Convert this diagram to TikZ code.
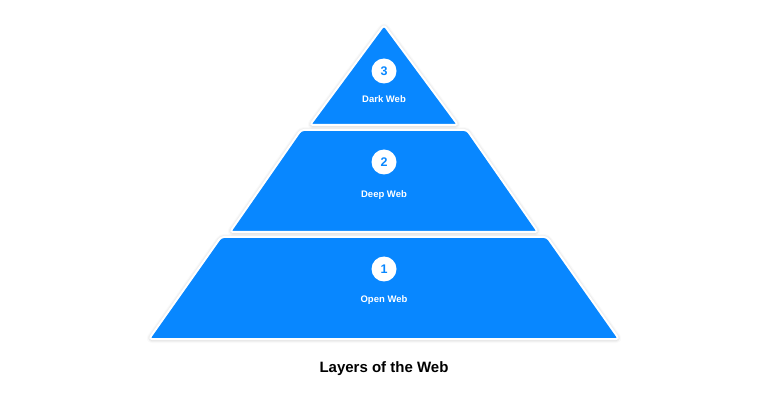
\documentclass[tikz,border=0pt]{standalone}
\usepackage{fontspec}
\setmainfont{Liberation Sans}
\usetikzlibrary{shadows.blur}
\definecolor{webblue}{HTML}{0887FF}
\tikzset{
  layer/.style={fill=webblue, draw=white, line width=2pt, rounded corners=3pt,
    blur shadow={shadow xshift=0pt, shadow yshift=-0.5pt, shadow blur radius=3.5pt, shadow opacity=30}},
  layernum/.style={circle, fill=white, minimum size=25pt, inner sep=0pt, text=webblue,
    font=\bfseries\fontsize{12.5}{12.5}\selectfont},
  layername/.style={text=white, font=\bfseries\fontsize{9.5}{11}\selectfont}
}
\begin{document}
\begin{tikzpicture}[x=1pt,y=-1pt]
  \useasboundingbox (0,0) rectangle (768,403);
  % layers, top to bottom
  \draw[layer] (384,25) -- (458,125) -- (310,125) -- cycle;
  \draw[layer] (301,130) -- (467,130) -- (538,232) -- (230,232) -- cycle;
  \draw[layer] (221,237) -- (547,237) -- (619,339) -- (149,339) -- cycle;
  % numbers and names
  \node[layernum] (n3) at (384,71) {3};
  \node[layername] (dark) at (384,99) {Dark Web};
  \node[layernum] (n2) at (384,162) {2};
  \node[layername] (deep) at (384,195) {Deep Web};
  \node[layernum] (n1) at (384,269) {1};
  \node[layername] (open) at (384,300) {Open Web};
  \node[font=\bfseries\fontsize{15}{18}\selectfont] (title) at (384,369) {Layers of the Web};
\end{tikzpicture}
\end{document}
